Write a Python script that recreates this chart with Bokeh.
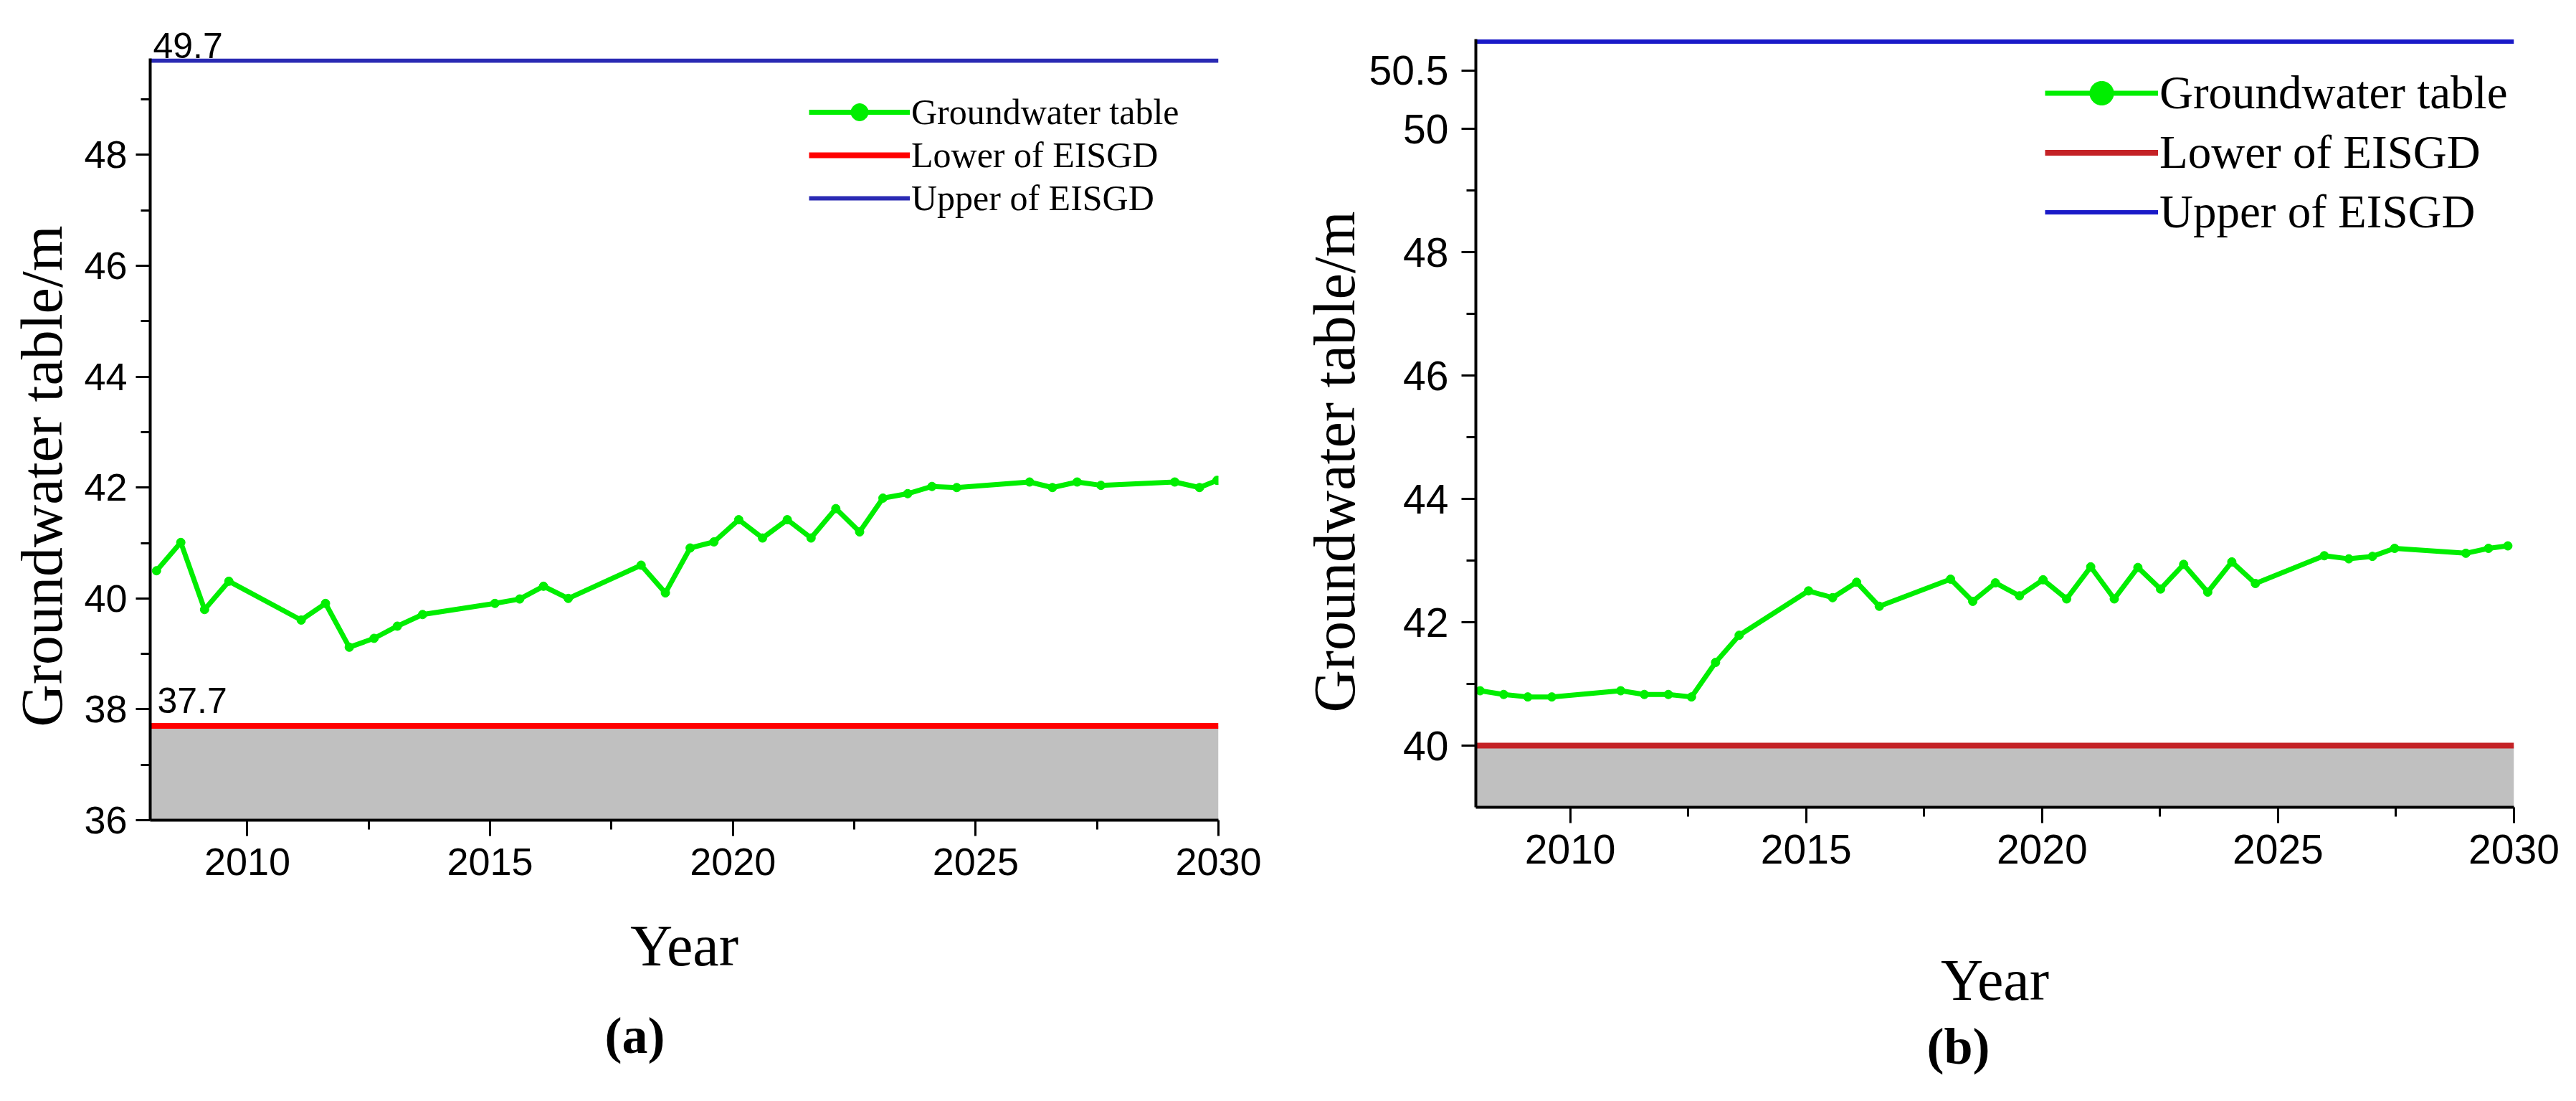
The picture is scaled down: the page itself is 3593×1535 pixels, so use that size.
from bokeh.plotting import figure
from bokeh.layouts import row, column
from bokeh.models import FixedTicker, Label, Legend, LegendItem, Range1d, Title
from bokeh.embed import file_html
from bokeh.resources import INLINE

# ---------------- data ----------------
years_a = [2008.13, 2008.63, 2009.12, 2009.62, 2011.11, 2011.61, 2012.10, 2012.61,
           2013.09, 2013.61, 2015.10, 2015.61, 2016.10, 2016.61, 2018.11, 2018.61,
           2019.12, 2019.61, 2020.12, 2020.61, 2021.12, 2021.61, 2022.12, 2022.61,
           2023.09, 2023.60, 2024.10, 2024.61, 2026.11, 2026.58, 2027.09, 2027.58,
           2029.10, 2029.61, 2029.97]
table_a = [40.50, 41.01, 39.80, 40.31, 39.61, 39.91, 39.12, 39.28, 39.50, 39.71,
           39.91, 39.99, 40.22, 40.00, 40.60, 40.10, 40.91, 41.02, 41.42, 41.09,
           41.42, 41.09, 41.62, 41.20, 41.81, 41.89, 42.02, 42.00, 42.10, 42.00,
           42.10, 42.04, 42.10, 42.00, 42.13]
lower_a = 37.7
upper_a = 49.7

years_b = [2008.09, 2008.59, 2009.10, 2009.61, 2011.07, 2011.57, 2012.08, 2012.57,
           2013.08, 2013.58, 2015.05, 2015.56, 2016.07, 2016.55, 2018.06, 2018.53,
           2019.01, 2019.52, 2020.02, 2020.52, 2021.03, 2021.53, 2022.03, 2022.51,
           2023.00, 2023.51, 2024.02, 2024.52, 2025.98, 2026.50, 2027.00, 2027.47,
           2028.98, 2029.46, 2029.87]
table_b = [40.89, 40.83, 40.79, 40.79, 40.89, 40.83, 40.83, 40.79, 41.35, 41.79,
           42.51, 42.40, 42.65, 42.26, 42.70, 42.34, 42.64, 42.43, 42.69, 42.38,
           42.90, 42.38, 42.89, 42.54, 42.94, 42.49, 42.98, 42.63, 43.08, 43.03,
           43.07, 43.20, 43.12, 43.20, 43.24]
lower_b = 40.0
upper_b = 51.42

year_start, year_end = 2008, 2030
x_major = [2010, 2015, 2020, 2025, 2030]
x_minor = [2012.5, 2017.5, 2022.5, 2027.5]
y_major_a = [36, 38, 40, 42, 44, 46, 48]
y_minor_a = [37, 39, 41, 43, 45, 47, 49]
y_major_b = [40, 42, 44, 46, 48, 50, 50.95]
y_minor_b = [41, 43, 45, 47, 49]
y_label_override_b = {50.95: "50.5"}

series_names = ["Groundwater table", "Lower of EISGD", "Upper of EISGD"]
panel_names = ["(a)", "(b)"]
x_title = "Year"
y_title = "Groundwater table/m"

SERIF = "Liberation Serif"
SANS = "Liberation Sans"
GREEN = "#00ee00"
GRAY = "#c0c0c0"


def make_panel(years, table, lower, upper, y_start, y_end, y_major, y_minor,
               width, height, b_left, b_right, b_top, b_bottom,
               red, blue, tick_fs, leg_fs, leg_row, leg_glyph_w, leg_loc,
               x_lab_off, x_axis_lab_off, y_lab_off,
               ytitle_offset, ytitle_standoff,
               name, name_offset, name_standoff):
    p = figure(width=width, height=height, output_backend="svg", toolbar_location=None,
               x_range=Range1d(year_start, year_end), y_range=Range1d(y_start, y_end),
               min_border_left=b_left, min_border_right=b_right,
               min_border_top=b_top, min_border_bottom=b_bottom)
    p.outline_line_color = None
    p.xgrid.visible = False
    p.ygrid.visible = False
    p.background_fill_color = "white"

    # gray zone below lower limit
    p.quad(left=[year_start], right=[year_end], bottom=[y_start], top=[lower],
           fill_color=GRAY, line_color=None)
    rl = p.line([year_start, year_end], [lower, lower], line_color=red, line_width=8)
    bl = p.line([year_start, year_end], [upper, upper], line_color=blue, line_width=6)
    gl = p.line(years, table, line_color=GREEN, line_width=7)
    gs = p.scatter(years, table, size=12, marker="circle", fill_color=GREEN, line_color=GREEN)

    legend = Legend(items=[LegendItem(label=series_names[0], renderers=[gl, gs]),
                           LegendItem(label=series_names[1], renderers=[rl]),
                           LegendItem(label=series_names[2], renderers=[bl])],
                    location=leg_loc)
    legend.glyph_width = leg_glyph_w
    legend.glyph_height = leg_row
    legend.label_height = leg_row
    legend.spacing = 0
    legend.padding = 0
    legend.margin = 0
    legend.label_standoff = 2
    legend.label_text_font = SERIF
    legend.label_text_font_size = f"{leg_fs}px"
    legend.label_text_color = "black"
    legend.border_line_alpha = 0
    legend.background_fill_alpha = 0
    p.add_layout(legend)

    for ax in (p.xaxis[0], p.yaxis[0]):
        ax.axis_line_width = 4
        ax.axis_line_color = "black"
        ax.major_tick_line_width = 3
        ax.minor_tick_line_width = 3
        ax.major_tick_in = 0
        ax.minor_tick_in = 0
        ax.major_label_text_font = SANS
        ax.major_label_text_font_size = f"{tick_fs}px"
        ax.major_label_text_color = "black"
        ax.axis_label_text_font = SERIF
        ax.axis_label_text_font_style = "normal"
        ax.axis_label_text_font_size = "82px"
        ax.axis_label_text_color = "black"

    p.xaxis.ticker = FixedTicker(ticks=x_major, minor_ticks=x_minor)
    p.yaxis.ticker = FixedTicker(ticks=y_major, minor_ticks=y_minor)
    p.xaxis.major_tick_out = 22
    p.xaxis.minor_tick_out = 13
    p.yaxis.major_tick_out = 20
    p.yaxis.minor_tick_out = 13
    p.xaxis.major_label_standoff = x_lab_off
    p.xaxis.axis_label_standoff = x_axis_lab_off
    p.yaxis.major_label_standoff = y_lab_off
    p.xaxis.axis_label = x_title

    # y axis title (placed as a side title so it can sit off-centre like the original)
    p.add_layout(Title(text=y_title, align="left", offset=ytitle_offset,
                       standoff=ytitle_standoff, text_font=SERIF, text_font_size="82px",
                       text_font_style="normal", text_color="black"), "left")

    p.add_layout(Title(text=name, align="left", offset=name_offset, standoff=name_standoff,
                       text_font=SERIF, text_font_size="72px", text_font_style="bold",
                       text_color="black"), "below")
    return p


pa = make_panel(years_a, table_a, lower_a, upper_a, 36, 49.74, y_major_a, y_minor_a,
                1782, 1519, 207, 83, 81, 375,
                "#ff0000", "#2a2ab4", 54, 50, 60, 141, (919, 837),
                17, 50, 12,
                130, 21,
                panel_names[0], 634, 71)
# value of the upper limit written above its line
pa.title.text = f"{upper_a}"
pa.title.align = "left"
pa.title.offset = 4
pa.title.standoff = 2
pa.title.text_font = SANS
pa.title.text_font_size = "50px"
pa.title.text_font_style = "normal"
pa.title.text_color = "black"
pa.add_layout(Label(x=year_start, y=lower_a, x_offset=10, y_offset=18, text=f"{lower_a}",
                    text_font=SANS, text_font_size="50px", text_baseline="bottom",
                    text_color="black"))

pb = make_panel(years_b, table_b, lower_b, upper_b, 39, 51.46, y_major_b, y_minor_b,
                1795, 1519, 276, 71, 54, 394,
                "#c42226", "#1a1ac8", 57, 65, 83, 158, (794, 788),
                16, 114, 18,
                132, 0,
                panel_names[1], 629, 4)
pb.yaxis.major_label_overrides = y_label_override_b

layout = row(column(pa), column(pb))
open("out.html", "w").write(file_html(layout, INLINE))
